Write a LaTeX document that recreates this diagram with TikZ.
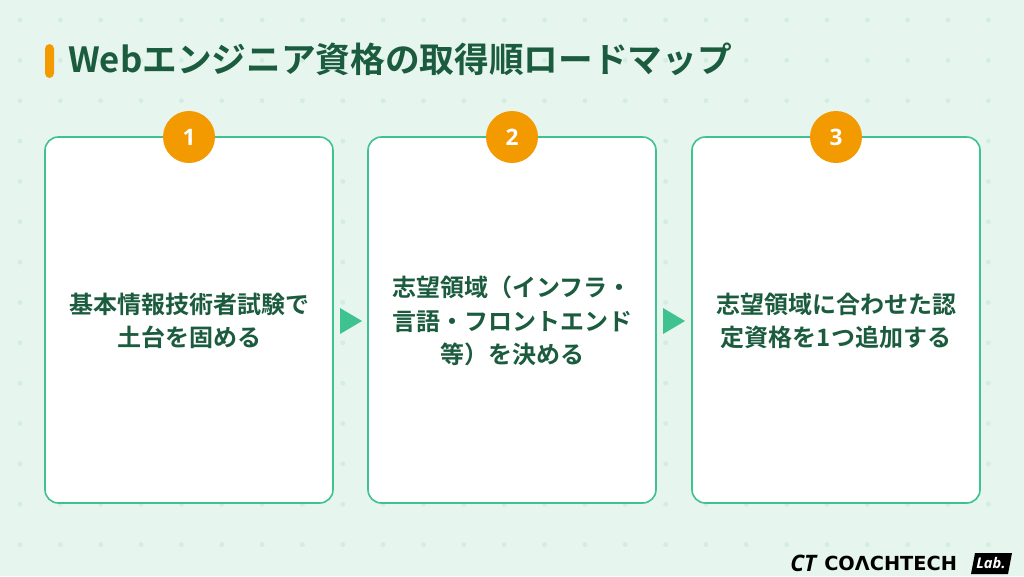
\documentclass[tikz,border=0pt]{standalone}
\usepackage{fontspec}
\newfontfamily\jp{Noto Sans CJK JP}[BoldFont={* Bold}]
\newfontfamily\lat{Open Sans}
\begin{document}
\definecolor{bg}{HTML}{E6F5EE}
\definecolor{dotc}{HTML}{D2EDE1}
\definecolor{dg}{HTML}{1B5B3E}
\definecolor{bd}{HTML}{3EC28F}
\definecolor{org}{HTML}{F39A00}
\begin{tikzpicture}[x=0.75pt,y=-0.75pt,
  card/.style={draw=bd,line width=1.2pt,fill=white,rounded corners=10pt},
  num/.style={circle,fill=org,minimum size=39pt,inner sep=0pt,text=white,font=\lat\bfseries\fontsize{17}{17}\selectfont},
  txt/.style={align=center,text=dg,font=\jp\bfseries\fontsize{18}{25}\selectfont},
  arr/.style={fill=bd}]
\fill[bg] (0,0) rectangle (1024,576);
\useasboundingbox (0,0) rectangle (1024,576);
\foreach \i in {0,...,25}{\foreach \j in {0,...,13}{
  \fill[dotc] (20+40.35*\i,20+40.35*\j) circle (2.4);}}
\fill[org,rounded corners=3.5pt] (45,44) rectangle (54,78);
\node[anchor=west,text=dg,font=\jp\bfseries\fontsize{26}{26}\selectfont,inner sep=0] (title) at (68,59) {Webエンジニア資格の取得順ロードマップ};
\foreach \k/\x/\t in {1/45/{基本情報技術者試験で\\土台を固める},2/368/{志望領域（インフラ・\\言語・フロントエンド\\等）を決める},3/692/{志望領域に合わせた認\\定資格を1つ追加する}}{
  \draw[card] (\x,137) rectangle (\x+288,503);
  \node[num] (n\k) at (\x+144,137) {\k};
  \node[txt] (t\k) at (\x+144,321) {\t};
}
\fill[arr] (340,308) -- (362,321) -- (340,334) -- cycle;
\fill[arr] (663,308) -- (685,321) -- (663,334) -- cycle;
% logo
\node[anchor=west,inner sep=0,font=\lat\bfseries\itshape\fontsize{17}{17}\selectfont] (ct) at (790,563) {CT};
\node[anchor=west,inner sep=0,font=\fontspec{DejaVu Sans}\bfseries\fontsize{14.5}{15}\selectfont] (coach) at (824,563) {COΛCHTECH};
\fill[black] (975,553) -- (1012,553) -- (1008,574) -- (971,574) -- cycle;
\node[text=white,inner sep=0,font=\lat\bfseries\itshape\fontsize{11}{11}\selectfont] (lab) at (991,563) {Lab.};
\end{tikzpicture}
\end{document}
